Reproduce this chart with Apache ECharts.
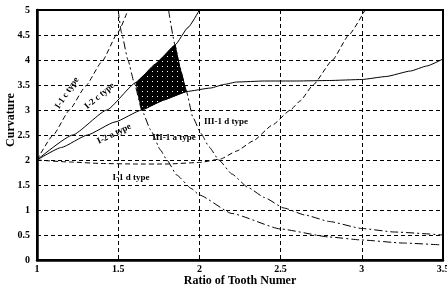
<!DOCTYPE html>
<html>
<head>
<meta charset="utf-8">
<script src="https://cdn.jsdelivr.net/npm/echarts@6/dist/echarts.min.js"></script>
<style>html,body{margin:0;padding:0;background:#fff}#c{width:447px;height:287px}</style>
</head>
<body>
<div id="c"></div>
<script>
// ---- data ----
var xTicks = [1, 1.5, 2, 2.5, 3, 3.5];
var yTicks = [0, 0.5, 1, 1.5, 2, 2.5, 3, 3.5, 4, 4.5, 5];
var curveI1c = [[1,2],[1.1,2.5],[1.2,3.0],[1.3,3.48],[1.4,3.97],[1.5,4.56],[1.56,5]];
var curveI2c = [[1,2],[1.22,2.5],[1.43,3.0],[1.61,3.55],[1.73,3.92],[1.85,4.3],[1.93,4.65],[2.0,5]];
var curveI2a = [[1,2],[1.15,2.25],[1.31,2.5],[1.48,2.76],[1.645,3.0],[1.78,3.2],[1.92,3.37],[2.07,3.44],[2.15,3.51],[2.23,3.56],[2.4,3.58],[2.6,3.58],[2.8,3.59],[3.0,3.61],[3.15,3.67],[3.3,3.78],[3.4,3.88],[3.5,4.02]];
var curveI1d = [[1,2],[1.2,1.96],[1.4,1.93],[1.6,1.92],[1.8,1.92],[2.0,1.95],[2.13,2.02],[2.23,2.18],[2.33,2.38],[2.45,2.7],[2.56,3.0],[2.62,3.18],[2.7,3.5],[2.82,4.0],[2.92,4.5],[3.02,5]];
var curveIIIa = [[1.5,5],[1.52,4.55],[1.56,4.0],[1.6,3.53],[1.645,3.0],[1.7,2.6],[1.76,2.2],[1.8,2.0],[1.86,1.7],[1.95,1.43],[2.0,1.3],[2.2,0.93],[2.5,0.62],[2.8,0.46],[3.0,0.4],[3.25,0.34],[3.5,0.3]];
var curveIIId = [[1.81,5],[1.85,4.3],[1.88,3.85],[1.92,3.37],[1.96,2.85],[2.01,2.53],[2.06,2.26],[2.12,2.0],[2.2,1.72],[2.3,1.45],[2.4,1.25],[2.52,1.04],[2.65,0.9],[2.8,0.77],[3.0,0.63],[3.2,0.56],[3.5,0.5]];
var region = [[1.61,3.55],[1.73,3.92],[1.85,4.3],[1.88,3.85],[1.92,3.37],[1.78,3.2],[1.645,3.0],[1.625,3.28]];
var labelText = ['I-1 c type','I-2 c type','I-2 a type','III-1 d type','III-1 a type','I-1 d type'];
var labelPos = [[1.185,3.34],[1.385,3.28],[1.475,2.52],[2.164,2.76],[1.844,2.44],[1.579,1.64]];
var labelRot = [56, 40, 26, 0, 0, 0];

// ---- chart ----
var pc = document.createElement('canvas');
pc.width = 5; pc.height = 5;
var pctx = pc.getContext('2d');
pctx.fillStyle = '#000'; pctx.fillRect(0,0,5,5);
pctx.fillStyle = '#fff'; pctx.fillRect(2,1,1,1);

var font = 'Liberation Serif';
function lineSeries(data, type) {
  return {
    type: 'line', data: data, showSymbol: false, smooth: 0.15, smoothMonotone: 'x',
    lineStyle: { color: '#000', width: 1, type: type }, silent: true, z: 3
  };
}
var chart = echarts.init(document.getElementById('c'), null, { renderer: 'canvas' });
chart.setOption({
  animation: false,
  backgroundColor: '#fff',
  grid: { left: 37, right: 4, top: 10, bottom: 27, containLabel: false, outerBoundsMode: 'none',
    show: true, borderColor: '#000', borderWidth: 2 },
  xAxis: {
    type: 'value', min: 1, max: 3.5, interval: 0.5,
    name: 'Ratio of Tooth Numer', nameLocation: 'middle', nameGap: 15, nameMoveOverlap: false,
    nameTextStyle: { fontFamily: font, fontWeight: 'bold', fontSize: 12, color: '#000' },
    axisLine: { lineStyle: { color: '#000', width: 2.5 } },
    axisTick: { show: false },
    axisLabel: { fontFamily: font, fontWeight: 'bold', fontSize: 10, color: '#000', margin: 4,
      formatter: function (v) { return xTicks.indexOf(v) >= 0 ? String(v) : ''; } },
    splitLine: { show: true, lineStyle: { color: '#000', width: 1, type: [4, 3] } }
  },
  yAxis: {
    type: 'value', min: 0, max: 5, interval: 0.5,
    name: 'Curvature', nameLocation: 'middle', nameGap: 20, nameMoveOverlap: false,
    nameTextStyle: { fontFamily: font, fontWeight: 'bold', fontSize: 12, color: '#000', padding: [0, 0, 0, 30] },
    axisLine: { lineStyle: { color: '#000', width: 2.5 } },
    axisTick: { show: false },
    axisLabel: { fontFamily: font, fontWeight: 'bold', fontSize: 10, color: '#000', margin: 7,
      formatter: function (v) { return yTicks.indexOf(v) >= 0 ? String(v) : ''; } },
    splitLine: { show: true, lineStyle: { color: '#000', width: 1, type: [4, 3] } }
  },
  series: [
    {
      type: 'custom', silent: true, z: 2,
      renderItem: function (params, api) {
        var pts = region.map(function (p) { return api.coord(p); });
        return { type: 'polygon', shape: { points: pts }, style: { fill: { image: pc, repeat: 'repeat' }, stroke: '#000', lineWidth: 1 } };
      },
      data: [0]
    },
    lineSeries(curveI1c, [5, 3]),
    lineSeries(curveI2c, 'solid'),
    lineSeries(curveI2a, 'solid'),
    lineSeries(curveI1d, [5, 3]),
    lineSeries(curveIIIa, [8, 3, 2, 3]),
    lineSeries(curveIIId, [8, 3, 2, 3]),
    {
      type: 'custom', silent: true, z: 5,
      data: labelPos.map(function (p, i) { return [p[0], p[1], i]; }),
      renderItem: function (params, api) {
        var i = api.value(2);
        var pt = api.coord([api.value(0), api.value(1)]);
        return {
          type: 'text', x: pt[0], y: pt[1], rotation: labelRot[i] * Math.PI / 180,
          style: { text: labelText[i], align: 'center', verticalAlign: 'middle',
            font: 'bold 9px "Liberation Serif"', fill: '#000' }
        };
      }
    }
  ]
});
</script>
</body>
</html>
